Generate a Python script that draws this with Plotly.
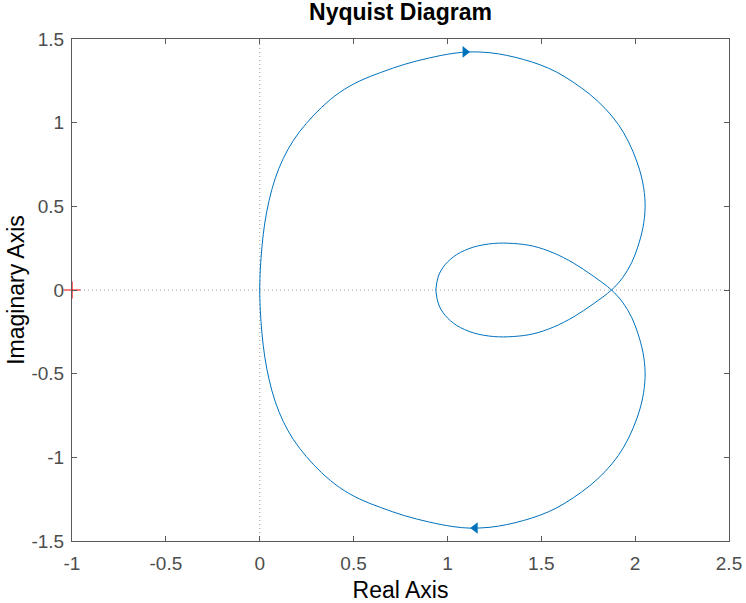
import plotly.graph_objects as go

# Positive-frequency branch: origin -> upper outer arc -> crossing -> lower inner arc -> end on real axis
pos_re = [0.000, 0.003, 0.012, 0.027, 0.050, 0.082, 0.125, 0.180, 0.248, 0.330, 0.425, 0.530,
          0.645, 0.770, 0.900, 1.030, 1.120, 1.227, 1.316, 1.404, 1.493, 1.582, 1.670, 1.759,
          1.840, 1.910, 1.965, 2.010, 2.040, 2.053, 2.046, 2.021, 1.981, 1.933, 1.874,
          1.777, 1.670, 1.564, 1.457, 1.351, 1.245, 1.138, 1.050, 0.988, 0.952, 0.938]
pos_im = [0.000, 0.120, 0.260, 0.400, 0.535, 0.665, 0.785, 0.895, 0.995, 1.092, 1.180, 1.248,
          1.300, 1.348, 1.386, 1.414, 1.423, 1.418, 1.402, 1.378, 1.346, 1.302, 1.242, 1.169,
          1.085, 0.990, 0.885, 0.765, 0.645, 0.521, 0.402, 0.282, 0.163, 0.073, 0.000,
          -0.083, -0.162, -0.222, -0.262, -0.278, -0.278, -0.256, -0.212, -0.152, -0.083, 0.000]

# Negative-frequency branch: from real axis -> upper inner arc -> crossing -> lower outer arc -> origin
neg_re = [0.938, 0.952, 0.988, 1.050, 1.138, 1.245, 1.351, 1.457, 1.564, 1.670, 1.777, 1.874,
          1.933, 1.981, 2.021, 2.046, 2.053, 2.040, 2.010, 1.965, 1.910, 1.840, 1.759, 1.670,
          1.582, 1.493, 1.404, 1.316, 1.227, 1.120, 1.030, 0.900, 0.770, 0.645, 0.530, 0.425,
          0.330, 0.248, 0.180, 0.125, 0.082, 0.050, 0.027, 0.012, 0.003, 0.000]
neg_im = [0.000, 0.083, 0.152, 0.212, 0.256, 0.278, 0.278, 0.262, 0.222, 0.162, 0.083, 0.000,
          -0.073, -0.163, -0.282, -0.402, -0.521, -0.645, -0.765, -0.885, -0.990, -1.085, -1.169, -1.242,
          -1.302, -1.346, -1.378, -1.402, -1.418, -1.423, -1.414, -1.386, -1.348, -1.300, -1.248, -1.180,
          -1.092, -0.995, -0.895, -0.785, -0.665, -0.535, -0.400, -0.260, -0.120, 0.000]

# Direction arrows
arrow_re = [1.094, 1.148]
arrow_im = [1.423, -1.422]
arrow_symbols = ["triangle-right", "triangle-left"]

# Critical point
crit_re = [-1.0]
crit_im = [0.0]

x_ticks = [-1, -0.5, 0, 0.5, 1, 1.5, 2, 2.5]
x_tick_labels = ["-1", "-0.5", "0", "0.5", "1", "1.5", "2", "2.5"]
y_ticks = [-1.5, -1, -0.5, 0, 0.5, 1, 1.5]
y_tick_labels = ["-1.5", "-1", "-0.5", "0", "0.5", "1", "1.5"]

LINE = "#0072BD"
AXC = "#5a5a5a"
FONT = "Liberation Sans, Arial, Helvetica, sans-serif"

fig = go.Figure()

for xs, ys in ((pos_re, pos_im), (neg_re, neg_im)):
    fig.add_trace(go.Scatter(x=xs, y=ys, mode="lines",
                             line=dict(color=LINE, width=1.0, shape="spline", smoothing=1.0),
                             showlegend=False, hoverinfo="skip"))
fig.add_trace(go.Scatter(x=arrow_re, y=arrow_im, mode="markers",
                         marker=dict(symbol=arrow_symbols, size=10, color=LINE,
                                     line=dict(width=0)),
                         showlegend=False, hoverinfo="skip"))
fig.add_trace(go.Scatter(x=crit_re, y=crit_im, mode="markers", cliponaxis=False,
                         marker=dict(symbol="cross-thin", size=12,
                                     line=dict(color="#FF0000", width=1.2)),
                         showlegend=False, hoverinfo="skip"))

# dotted reference lines through origin
fig.add_shape(type="line", xref="x", yref="paper", x0=0, x1=0, y0=0, y1=1,
              line=dict(color="#a0a0a0", width=1, dash="1px,3px"), layer="below")
fig.add_shape(type="line", xref="paper", yref="y", x0=0, x1=1, y0=0, y1=0,
              line=dict(color="#a0a0a0", width=1, dash="1px,3px"), layer="below")

axis_common = dict(
    showgrid=False, zeroline=False, showline=True, linecolor=AXC, linewidth=1,
    mirror="ticks", ticks="inside", ticklen=5, tickcolor=AXC, tickwidth=1,
    automargin=False,
    tickfont=dict(family=FONT, size=19, color="#4d4d4d"),
)

fig.update_layout(
    width=746, height=603,
    margin=dict(l=72, r=17, t=39, b=62),
    paper_bgcolor="white", plot_bgcolor="white",
    font=dict(family=FONT),
    title=dict(text="<b>Nyquist Diagram</b>", x=0.5, xanchor="center",
               xref="paper", yref="container", y=1 - 12 / 603, yanchor="middle",
               font=dict(family=FONT, size=23, color="#000000")),
    xaxis=dict(range=[-1, 2.5], tickvals=x_ticks, ticktext=x_tick_labels,
               ticklabelstandoff=5,
               title=dict(text="Real Axis", font=dict(family=FONT, size=23, color="#000000"),
                          standoff=10),
               **axis_common),
    yaxis=dict(range=[-1.5, 1.5], tickvals=y_ticks, ticktext=y_tick_labels,
               ticklabelstandoff=3,
               title=dict(text="Imaginary Axis", font=dict(family=FONT, size=23, color="#000000"),
                          standoff=0),
               **axis_common),
)

fig.write_html("out.html", config={"displayModeBar": False},
               post_script="document.body.style.margin='0px';")
